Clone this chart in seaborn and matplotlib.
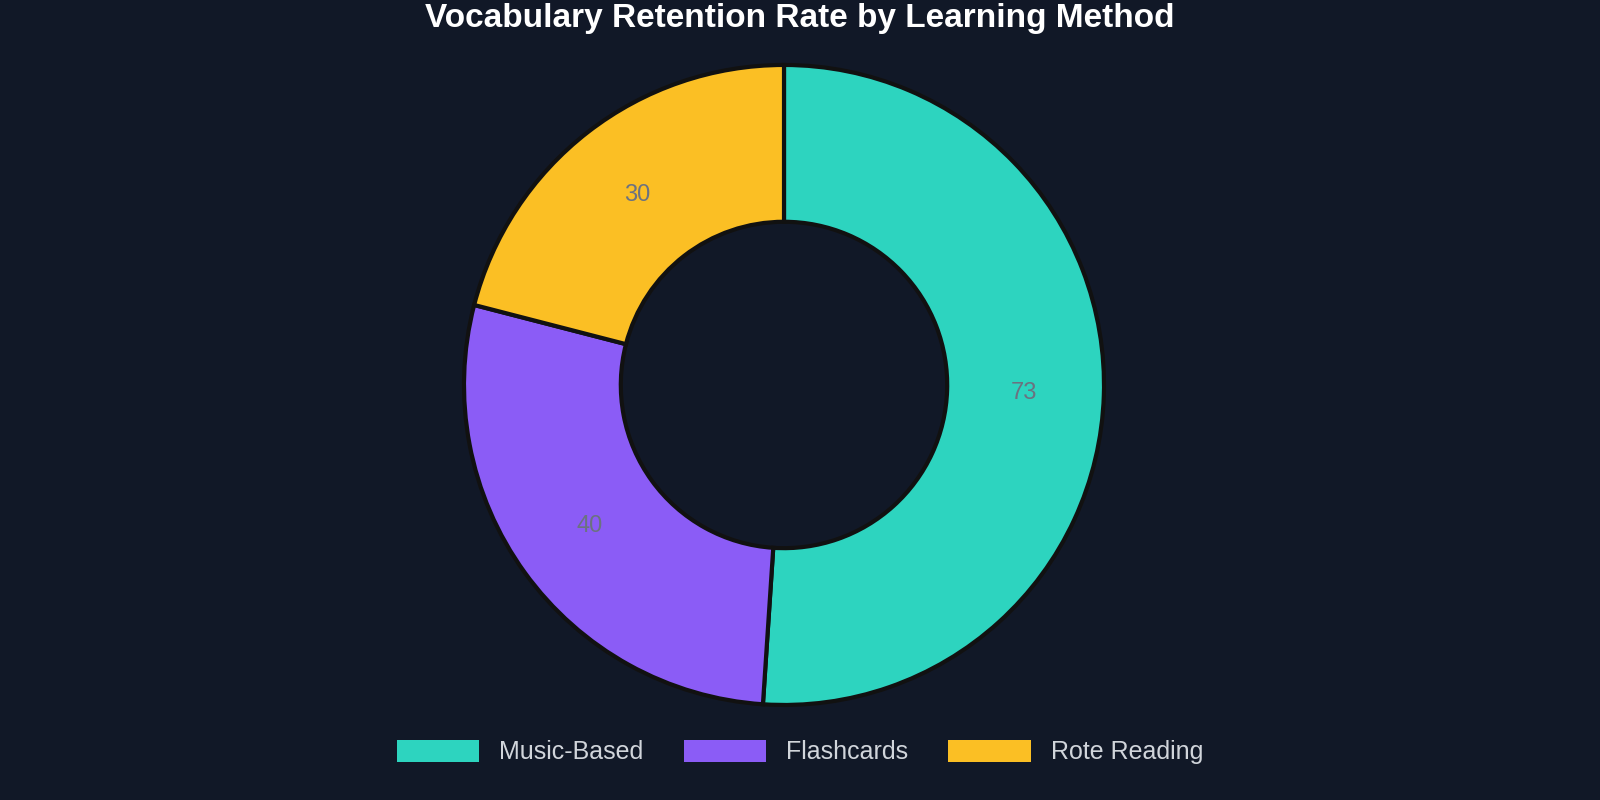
import matplotlib
matplotlib.use("Agg")
import matplotlib.pyplot as plt
import seaborn as sns

methods = ["Music-Based", "Flashcards", "Rote Reading"]
retention = [73, 40, 30]
colors = ["#2dd4bf", "#8b5cf6", "#fbbf24"]
bg = "#111827"

sns.set_theme(style="white")
plt.rcParams['font.family'] = ['Liberation Sans', 'DejaVu Sans']

fig = plt.figure(figsize=(16, 8), dpi=100, facecolor=bg)
ax = fig.add_axes([0, 0, 1, 1])
ax.set_facecolor(bg)

total = sum(retention)
wedges, _, autotexts = ax.pie(
    retention, colors=colors, startangle=90, counterclock=False,
    radius=1, wedgeprops=dict(width=0.49, edgecolor="#111111", linewidth=3),
    autopct=lambda p: f"{p * total / 100:.0f}", pctdistance=0.75,
    textprops=dict(color="#6b7280", fontsize=17))

ax.set_aspect("equal")
ax.set_xlim(-2.45, 2.55)
ax.set_ylim(-1.297, 1.203)
ax.axis("off")

fig.text(0.5, 0.977, "Vocabulary Retention Rate by Learning Method",
         ha="center", va="center", color="white", fontsize=24, fontweight="bold")

leg = fig.legend(wedges, methods, loc="center", bbox_to_anchor=(0.5, 0.06), ncol=3,
                 frameon=False, fontsize=18, handlelength=3.3, handleheight=1.0,
                 columnspacing=1.6, handletextpad=0.8)
for t in leg.get_texts():
    t.set_color("#d1d5db")
for h in leg.legend_handles:
    h.set_edgecolor("none")

fig.savefig("out.png", dpi=100, facecolor=bg)
